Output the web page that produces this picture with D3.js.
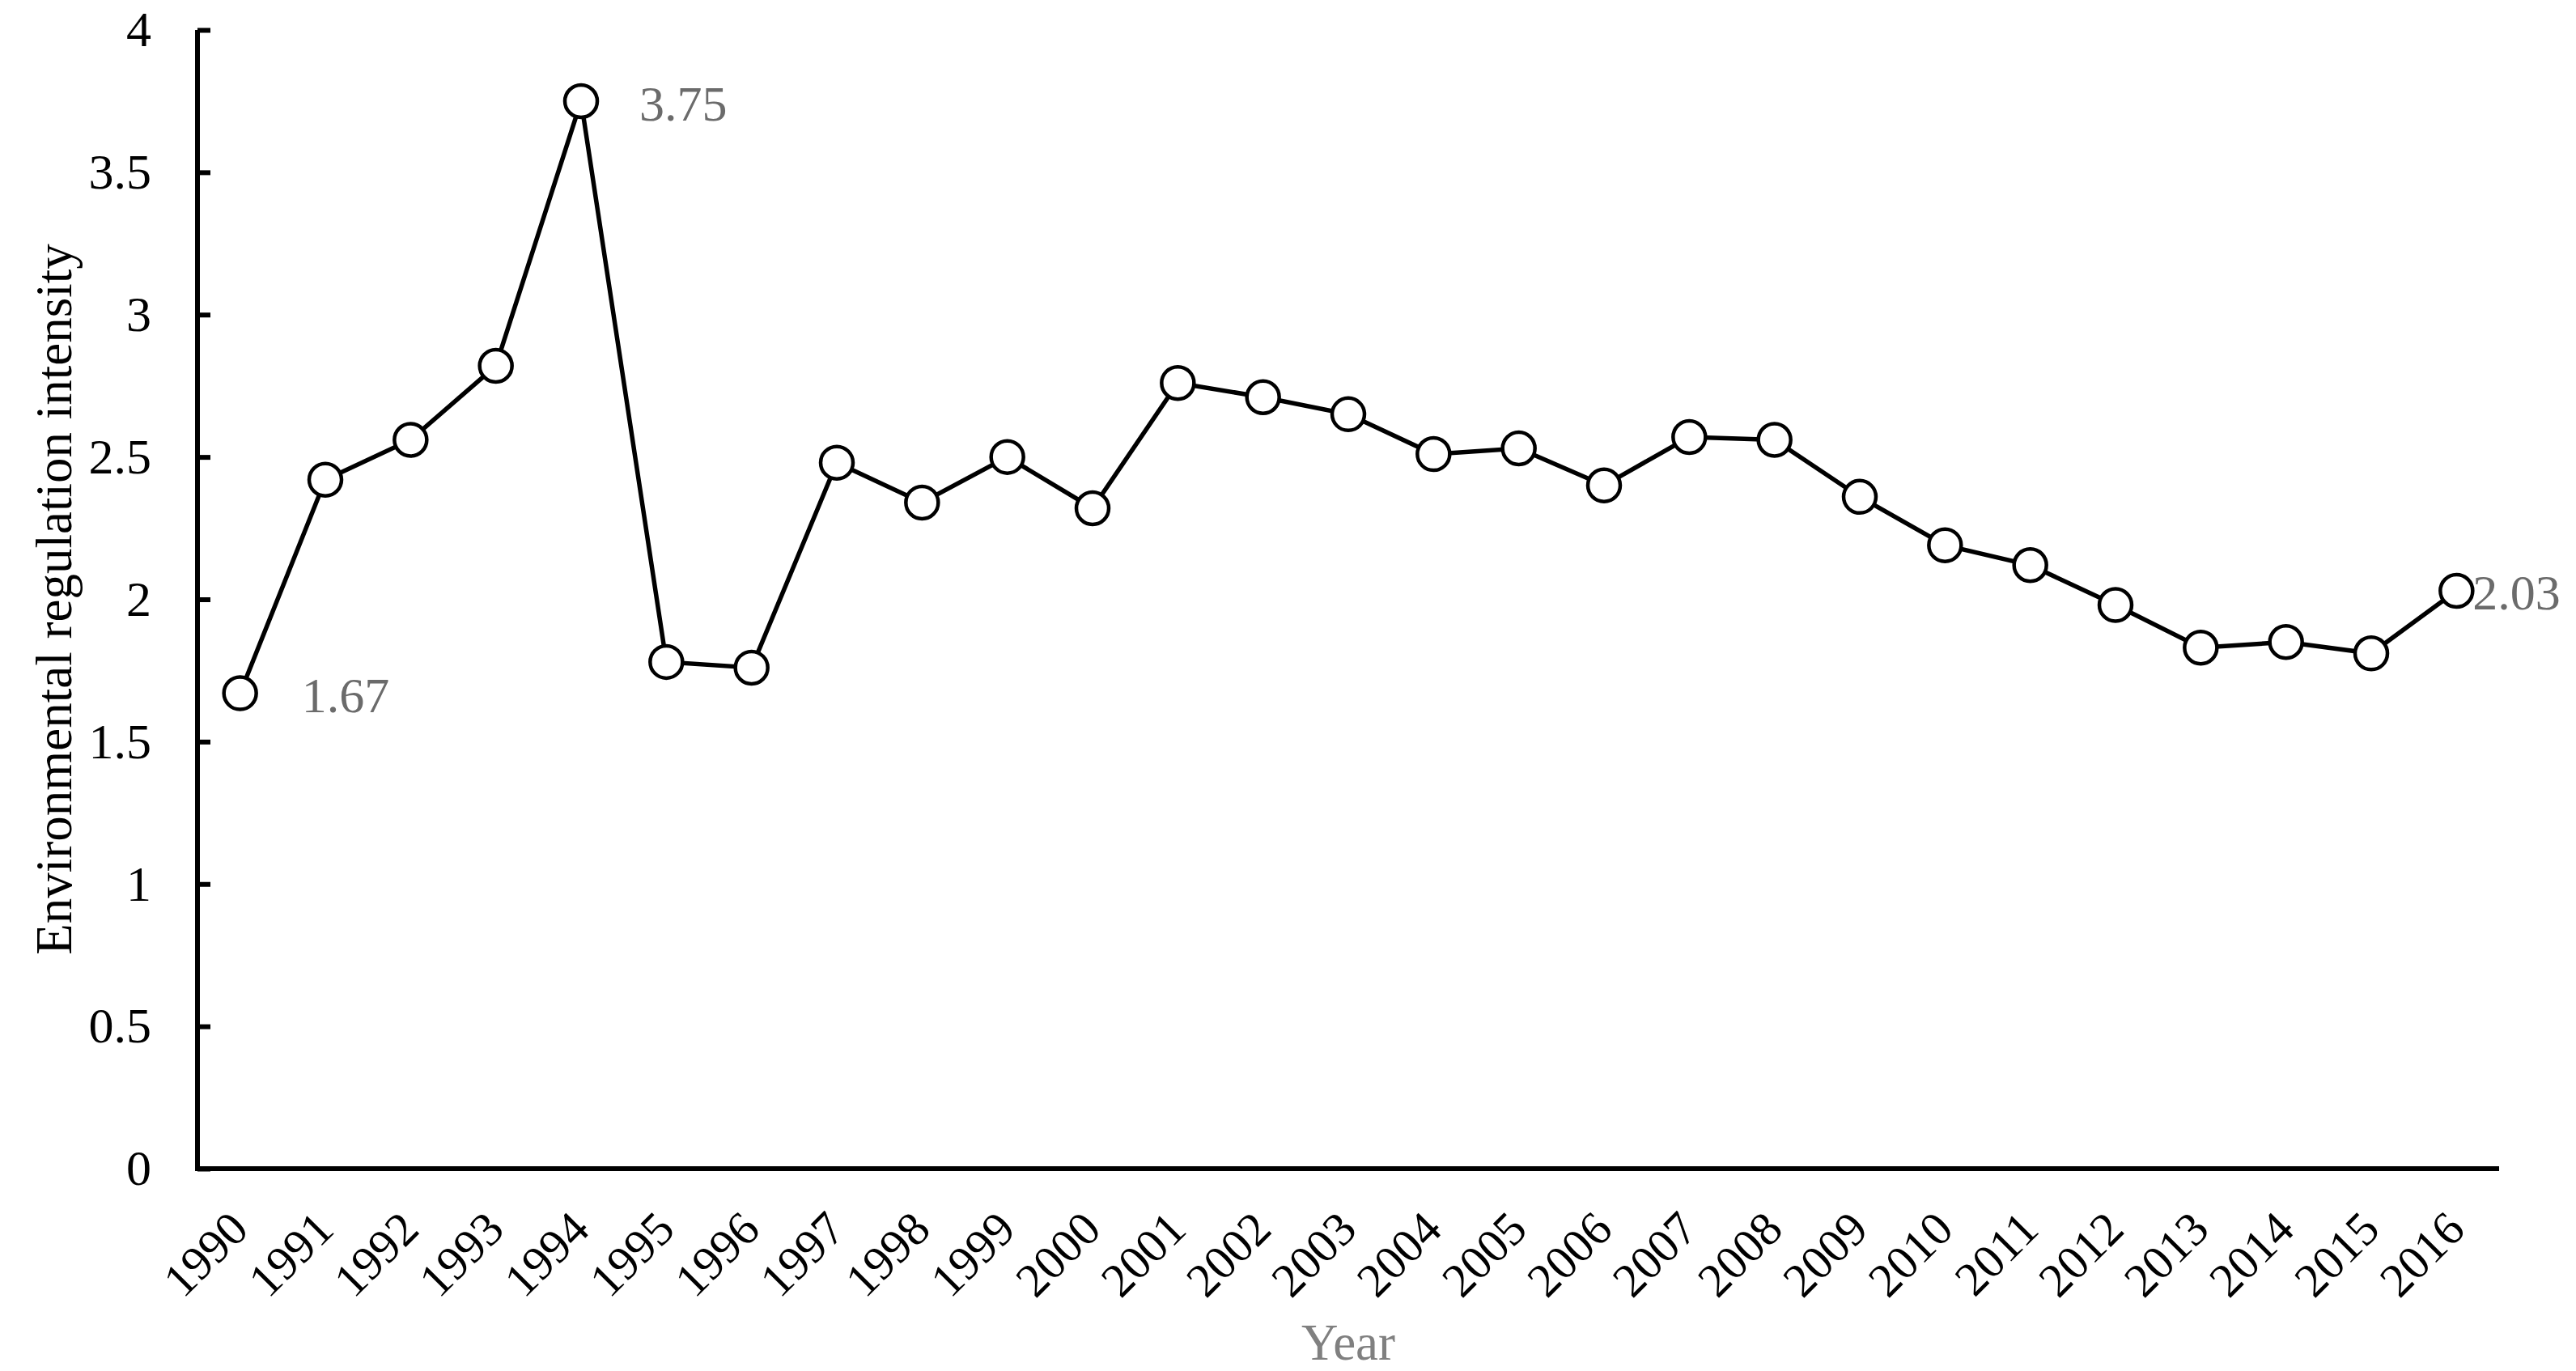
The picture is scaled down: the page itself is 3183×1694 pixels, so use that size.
<!DOCTYPE html>
<html>
<head>
<meta charset="utf-8">
<script src="https://cdn.jsdelivr.net/npm/d3@7/dist/d3.min.js"></script>
<style>
  html, body { margin: 0; padding: 0; background: #fff; }
  svg { display: block; }
  text { font-family: "Liberation Serif", "Times New Roman", serif; }
</style>
</head>
<body>
<script>
const years = ["1990","1991","1992","1993","1994","1995","1996","1997","1998","1999","2000","2001","2002","2003","2004","2005","2006","2007","2008","2009","2010","2011","2012","2013","2014","2015","2016"];
const values = [1.67, 2.42, 2.56, 2.82, 3.75, 1.78, 1.76, 2.48, 2.34, 2.50, 2.32, 2.76, 2.71, 2.65, 2.51, 2.53, 2.40, 2.57, 2.56, 2.36, 2.19, 2.12, 1.98, 1.83, 1.85, 1.81, 2.03];
const yTicks = [0, 0.5, 1, 1.5, 2, 2.5, 3, 3.5, 4];
const annotated = ["1990", "1994", "2016"];
const yTitle = "Environmental regulation intensity";
const xTitle = "Year";

const W = 3183, H = 1694;
const mLeft = 244, mRight = 3088, mTop = 37, mBottom = 1444;

const svg = d3.select("body").append("svg").attr("width", W).attr("height", H);

const x = d3.scaleBand().domain(years).range([mLeft, mRight]).padding(0);
const y = d3.scaleLinear().domain([0, 4]).range([mBottom, mTop]);
const cx = d => x(d) + x.bandwidth() / 2;

// Y axis (ticks inside)
const yAxis = d3.axisLeft(y).tickValues(yTicks).tickSize(-16).tickPadding(57)
  .tickFormat(d => String(d));
const gy = svg.append("g").attr("transform", `translate(${mLeft},0)`).call(yAxis);
gy.select(".domain").attr("stroke", "#000").attr("stroke-width", 6).attr("d", `M0,${mTop}V${mBottom}`);
gy.selectAll(".tick line").attr("stroke", "#000").attr("stroke-width", 6);
gy.selectAll(".tick text").attr("font-size", 62).attr("fill", "#000")
  .attr("font-family", "Liberation Serif");

// X axis (no ticks)
const xAxis = d3.axisBottom(x).tickSize(0).tickPadding(0);
const gx = svg.append("g").attr("transform", `translate(0,${mBottom})`).call(xAxis);
gx.select(".domain").attr("stroke", "#000").attr("stroke-width", 6).attr("d", `M${mLeft - 3},0H${mRight}`);
gx.selectAll(".tick text")
  .attr("font-size", 59).attr("fill", "#000").attr("font-family", "Liberation Serif")
  .attr("text-anchor", "end")
  .attr("dy", null).attr("y", null)
  .attr("transform", "translate(13,78) rotate(-45)");

// line
const line = d3.line().x((d, i) => cx(years[i])).y(d => y(d));
svg.append("path").datum(values).attr("d", line)
  .attr("fill", "none").attr("stroke", "#000").attr("stroke-width", 5.5).attr("stroke-linejoin", "miter");

// markers
svg.append("g").selectAll("circle").data(values).join("circle")
  .attr("cx", (d, i) => cx(years[i])).attr("cy", d => y(d)).attr("r", 20)
  .attr("fill", "#fff").attr("stroke", "#000").attr("stroke-width", 4.5);

// annotations
const annOffset = { "1990": [76, 23], "1994": [72, 24], "2016": [20, 23] };
svg.append("g").selectAll("text").data(annotated).join("text")
  .attr("x", d => cx(d) + annOffset[d][0])
  .attr("y", d => y(values[years.indexOf(d)]) + annOffset[d][1])
  .attr("font-size", 62).attr("fill", "#6b6b6b")
  .text(d => values[years.indexOf(d)].toFixed(2));

// titles
svg.append("text").attr("transform", `translate(66,${(mTop + mBottom) / 2}) rotate(-90)`)
  .attr("text-anchor", "middle").attr("dy", "0.35em")
  .attr("font-size", 63).attr("fill", "#000").text(yTitle);

svg.append("text").attr("x", (mLeft + mRight) / 2).attr("y", 1680)
  .attr("text-anchor", "middle").attr("font-size", 63).attr("fill", "#808080").text(xTitle);
</script>
</body>
</html>
